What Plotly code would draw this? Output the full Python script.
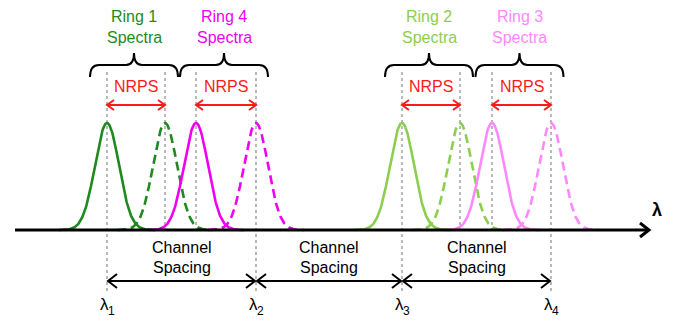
import numpy as np
import plotly.graph_objects as go

# Channel grid and ring resonances (wavelength axis, arbitrary units)
channels = [107, 256, 402, 551]
channel_index = ["1", "2", "3", "4"]
ring_names = ["Ring 1", "Ring 4", "Ring 2", "Ring 3"]
ring_colors = ["#1e8a1e", "#f000f0", "#8cce50", "#ff88ff"]
resonance_cold = [107, 196, 402, 492]   # solid: initial resonance
resonance_tuned = [165, 256, 460, 551]  # dashed: tuned resonance
peak_amplitude = [1.0, 1.0, 1.0, 1.0]
linewidth_sigma = 12.0

BASE_Y = 230       # baseline of the wavelength axis
PEAK_H = 107       # drawn height of a unit-amplitude peak
GUIDE_TOP = 72

fig = go.Figure()


def gauss_trace(center, amp, color, dash):
    x = np.linspace(center - 4 * linewidth_sigma, center + 4 * linewidth_sigma, 200)
    y = BASE_Y - PEAK_H * amp * np.exp(-((x - center) ** 2) / (2 * linewidth_sigma ** 2))
    return go.Scatter(x=x, y=y, mode="lines",
                      line=dict(color=color, width=2.6, dash=dash),
                      hoverinfo="skip", showlegend=False)


def arrow_line(x0, x1, y, color, width, head=8, half=6, both=True):
    xs = [x0, x1, None, x1 - head, x1, x1 - head]
    ys = [y, y, None, y - half, y, y + half]
    if both:
        xs += [None, x0 + head, x0, x0 + head]
        ys += [None, y - half, y, y + half]
    return go.Scatter(x=xs, y=ys, mode="lines",
                      line=dict(color=color, width=width),
                      hoverinfo="skip", showlegend=False)


def label(x, y, text, size, color, weight="normal"):
    return dict(x=x, y=y, text=text, showarrow=False,
                font=dict(size=size, color=color, weight=weight))


shapes = []
annotations = []

# Dotted guide lines
for c in channels:
    shapes.append(dict(type="line", x0=c, x1=c, y0=GUIDE_TOP, y1=293,
                       line=dict(color="#8a8a8a", width=1.2, dash="dot"), layer="below"))
for c0, c1 in zip(resonance_cold, resonance_tuned):
    for c in (c0, c1):
        if c not in channels:
            shapes.append(dict(type="line", x0=c, x1=c, y0=GUIDE_TOP, y1=234,
                               line=dict(color="#8a8a8a", width=1.2, dash="dot"), layer="below"))

# Spectra
for c0, c1, a, col in zip(resonance_cold, resonance_tuned, peak_amplitude, ring_colors):
    fig.add_trace(gauss_trace(c0, a, col, "solid"))
    fig.add_trace(gauss_trace(c1, a, col, "9px,5px"))

# Wavelength axis
fig.add_trace(arrow_line(15, 649, BASE_Y, "black", 3, head=9, half=7, both=False))
annotations.append(label(657, 210, "λ", 18, "black", "bold"))

# NRPS arrows, braces and ring labels
for name, c0, c1, col in zip(ring_names, resonance_cold, resonance_tuned, ring_colors):
    mid = (c0 + c1) / 2 - 2
    fig.add_trace(arrow_line(c0, c1, 105, "#ff1a1a", 2, head=7, half=5))
    annotations.append(label((c0 + c1) / 2, 86, "NRPS", 16, "#ff1a1a"))
    xl, xr = mid - 44, mid + 44
    path = (f"M {xl},77 Q {xl},65 {xl + 9},65 L {mid - 8},65 Q {mid},65 {mid},53 "
            f"Q {mid},65 {mid + 8},65 L {xr - 9},65 Q {xr},65 {xr},77")
    shapes.append(dict(type="path", path=path, line=dict(color="black", width=2)))
    annotations.append(label(mid, 16, name, 16, col))
    annotations.append(label(mid, 37, "Spectra", 16, col))

# Channel spacing arrows
for a, b in zip(channels[:-1], channels[1:]):
    fig.add_trace(arrow_line(a + 1, b - 1, 281, "black", 2, head=9, half=7))
    annotations.append(label((a + b) / 2, 247, "Channel", 16, "black"))
    annotations.append(label((a + b) / 2, 267, "Spacing", 16, "black"))

# Channel labels: lambda with a lowered index
for c, idx in zip(channels, channel_index):
    annotations.append(label(c - 3, 304, "λ", 17, "black"))
    annotations.append(label(c + 4, 311, idx, 12, "black"))

fig.update_layout(
    width=674, height=320,
    margin=dict(l=0, r=0, t=0, b=0),
    paper_bgcolor="white", plot_bgcolor="white",
    font=dict(family="Arial, Liberation Sans, sans-serif"),
    xaxis=dict(range=[0, 674], visible=False, fixedrange=True),
    yaxis=dict(range=[320, 0], visible=False, fixedrange=True),
    shapes=shapes, annotations=annotations,
)

fig.write_html("out.html")
